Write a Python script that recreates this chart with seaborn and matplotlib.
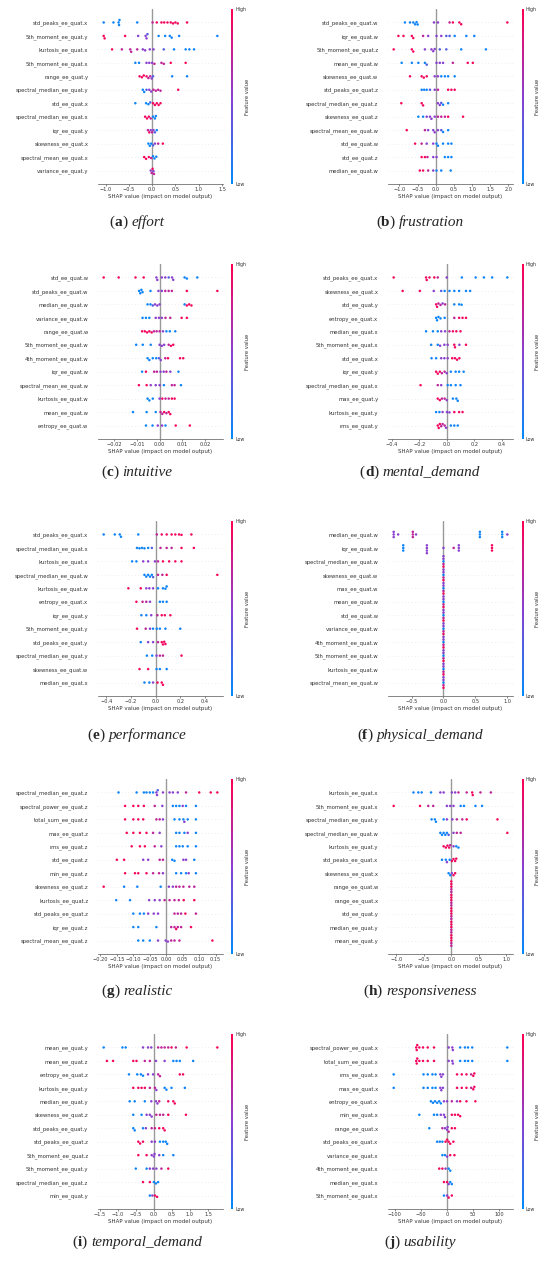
import warnings

import pandas as pd
import matplotlib
matplotlib.use("Agg")
import matplotlib.pyplot as plt
from matplotlib.colors import LinearSegmentedColormap, Normalize
from matplotlib.cm import ScalarMappable
from matplotlib.ticker import MultipleLocator
from matplotlib.offsetbox import TextArea, HPacker, AnnotationBbox
import seaborn as sns

warnings.filterwarnings("ignore")

# feature value levels (0 = low / blue, 1 = high / red)
B, L, P, K, R = 0.05, 0.3, 0.5, 0.72, 0.95

# ---------------- (a) effort ----------------
effort_features = ["std_peaks_ee_quat.x", "5th_moment_ee_quat.y", "kurtosis_ee_quat.x",
                   "5th_moment_ee_quat.x", "range_ee_quat.y", "spectral_median_ee_quat.y",
                   "std_ee_quat.x", "spectral_median_ee_quat.x", "iqr_ee_quat.y",
                   "skewness_ee_quat.x", "spectral_mean_ee_quat.x", "variance_ee_quat.y"]
effort_points = [
    [(-1.04, B), (-0.83, B), (-0.72, B), (-0.71, B), (-0.70, B), (-0.32, B), (0.01, K), (0.1, R),
     (0.2, R), (0.26, R), (0.33, R), (0.4, R), (0.45, R), (0.5, R), (0.55, R), (0.75, R)],
    [(-1.04, R), (-1.02, R), (-0.58, R), (-0.3, P), (-0.14, P), (-0.12, P), (-0.1, L), (0.14, B),
     (0.28, B), (0.38, B), (0.42, B), (0.58, B), (1.4, B)],
    [(-0.86, R), (-0.65, K), (-0.47, K), (-0.45, K), (-0.32, K), (-0.2, P), (-0.15, P), (-0.05, P),
     (0.03, P), (0.25, L), (0.47, B), (0.72, B), (0.8, B), (0.9, B)],
    [(-0.36, B), (-0.28, B), (-0.12, P), (-0.06, P), (0.0, P), (0.05, K), (0.2, K), (0.25, K),
     (0.4, R), (0.72, R)],
    [(-0.27, R), (-0.22, R), (-0.18, R), (-0.12, R), (-0.08, K), (-0.04, K), (-0.01, P), (0.02, L),
     (0.43, B), (0.75, B)],
    [(-0.2, B), (-0.17, B), (-0.12, L), (-0.06, P), (-0.02, P), (0.03, K), (0.08, K), (0.13, K),
     (0.18, K), (0.56, R)],
    [(-0.36, B), (-0.13, B), (-0.08, B), (-0.04, L), (0.02, R), (0.06, R), (0.1, R), (0.14, R), (0.18, R)],
    [(-0.15, R), (-0.11, R), (-0.07, R), (-0.03, K), (0.02, B), (0.06, B), (0.08, B)],
    [(-0.09, K), (-0.06, R), (-0.03, P), (0.0, K), (0.03, P), (0.06, L), (0.1, B)],
    [(-0.08, B), (-0.05, B), (-0.02, B), (0.02, L), (0.06, P), (0.13, K), (0.23, R)],
    [(-0.17, R), (-0.13, R), (-0.07, R), (-0.02, K), (0.02, B), (0.05, B), (0.09, B)],
    [(-0.03, P), (-0.01, K), (0.01, R), (0.03, P), (0.04, K)],
]

# ---------------- (b) frustration ----------------
frustration_features = ["std_peaks_ee_quat.w", "iqr_ee_quat.w", "5th_moment_ee_quat.z",
                        "mean_ee_quat.w", "skewness_ee_quat.w", "std_peaks_ee_quat.z",
                        "spectral_median_ee_quat.z", "skewness_ee_quat.z", "spectral_mean_ee_quat.w",
                        "std_ee_quat.w", "std_ee_quat.z", "median_ee_quat.w"]
frustration_points = [
    [(-0.85, B), (-0.71, B), (-0.62, B), (-0.57, B), (-0.53, B), (-0.5, B), (-0.05, P), (0.06, P),
     (0.38, K), (0.47, R), (0.65, R), (0.7, R), (1.97, R)],
    [(-1.03, R), (-0.89, R), (-0.66, R), (-0.62, R), (-0.35, K), (-0.21, P), (0.02, P), (0.15, P),
     (0.29, L), (0.38, L), (0.52, B), (0.84, B), (1.06, B)],
    [(-1.16, R), (-0.66, R), (-0.62, R), (-0.3, P), (-0.12, P), (-0.07, P), (-0.03, P), (0.11, L),
     (0.29, L), (0.7, B), (1.38, B)],
    [(-0.94, B), (-0.66, B), (-0.48, B), (-0.3, B), (-0.25, L), (0.02, P), (0.11, P), (0.2, P),
     (0.47, K), (0.88, R), (1.02, R)],
    [(-0.71, R), (-0.39, R), (-0.33, R), (-0.25, R), (-0.03, P), (0.06, P), (0.15, B), (0.25, B),
     (0.34, B), (0.52, B)],
    [(-0.39, B), (-0.32, B), (-0.25, B), (-0.16, L), (-0.03, P), (0.06, K), (0.34, R), (0.43, R), (0.52, R)],
    [(-0.95, R), (-0.39, R), (-0.35, R), (0.06, P), (0.11, P), (0.15, L), (0.2, B), (0.34, B)],
    [(-0.48, B), (-0.35, B), (-0.25, P), (-0.16, P), (-0.12, P), (-0.03, P), (0.06, K), (0.15, K),
     (0.25, K), (0.34, R), (0.75, R)],
    [(-0.8, R), (-0.3, K), (-0.21, P), (-0.07, P), (-0.03, P), (0.06, P), (0.15, L), (0.2, B), (0.34, B)],
    [(-0.57, R), (-0.39, K), (-0.25, P), (-0.07, P), (0.02, B), (0.06, B), (0.2, B), (0.34, B), (0.43, B)],
    [(-0.39, R), (-0.3, R), (-0.23, K), (-0.07, P), (0.02, P), (0.25, B), (0.34, B), (0.43, B)],
    [(-0.44, R), (-0.35, R), (-0.21, K), (-0.07, P), (0.02, B), (0.15, B), (0.41, B)],
]

# ---------------- (c) intuitive ----------------
intuitive_features = ["std_ee_quat.w", "std_peaks_ee_quat.w", "median_ee_quat.w", "variance_ee_quat.w",
                      "range_ee_quat.w", "5th_moment_ee_quat.w", "4th_moment_ee_quat.w", "iqr_ee_quat.w",
                      "spectral_mean_ee_quat.w", "kurtosis_ee_quat.w", "mean_ee_quat.w", "entropy_ee_quat.w"]
intuitive_points = [
    [(-0.0246, R), (-0.018, R), (-0.0106, R), (-0.007, R), (-0.0014, P), (-0.001, P), (0.001, P),
     (0.0025, P), (0.004, L), (0.0055, P), (0.006, P), (0.011, B), (0.012, B), (0.0166, B)],
    [(-0.009, B), (-0.0085, B), (-0.008, B), (-0.0075, B), (-0.004, B), (-0.0005, P), (0.001, P),
     (0.0025, K), (0.004, K), (0.0054, K), (0.012, R), (0.0254, R)],
    [(-0.0053, B), (-0.004, B), (-0.003, L), (-0.002, P), (-0.001, P), (0.0, P), (0.011, B),
     (0.012, R), (0.013, R), (0.014, R)],
    [(-0.0075, B), (-0.006, B), (-0.0045, B), (-0.0017, P), (-0.0003, P), (0.001, P), (0.0026, K),
     (0.0047, K), (0.0097, R), (0.012, R)],
    [(-0.0077, R), (-0.0065, R), (-0.0055, R), (-0.0045, R), (-0.0035, R), (-0.0025, K), (-0.0013, K),
     (0.0, K), (0.0015, P), (0.003, B), (0.0045, B), (0.0069, B)],
    [(-0.0103, B), (-0.0074, B), (-0.0039, B), (0.0, P), (0.001, P), (0.002, P), (0.004, K),
     (0.005, R), (0.006, R)],
    [(-0.0053, B), (-0.0045, B), (-0.003, B), (-0.0015, B), (-0.0003, L), (0.0005, P), (0.0025, K),
     (0.0037, R), (0.009, R), (0.0104, R)],
    [(-0.0077, B), (-0.006, R), (-0.0024, K), (-0.0012, K), (0.0004, P), (0.0018, P), (0.003, K),
     (0.0047, P), (0.0083, B)],
    [(-0.0091, R), (-0.0057, R), (-0.0039, P), (-0.0017, P), (0.0, P), (0.0019, B), (0.0054, K),
     (0.0066, K), (0.0094, B)],
    [(-0.0053, B), (-0.0045, B), (-0.003, B), (0.0, P), (0.0012, R), (0.0026, K), (0.004, K),
     (0.0054, R), (0.0066, R)],
    [(-0.0117, B), (-0.0057, B), (-0.0017, B), (0.0004, K), (0.0012, K), (0.002, R), (0.003, K),
     (0.004, R), (0.0047, R)],
    [(-0.006, B), (-0.0031, B), (-0.0008, P), (0.0011, P), (0.0026, B), (0.0071, R), (0.0133, R)],
]

# ---------------- (d) mental_demand ----------------
mental_features = ["std_peaks_ee_quat.x", "skewness_ee_quat.x", "std_ee_quat.y", "entropy_ee_quat.x",
                   "median_ee_quat.x", "5th_moment_ee_quat.x", "std_ee_quat.x", "iqr_ee_quat.y",
                   "spectral_median_ee_quat.x", "max_ee_quat.y", "kurtosis_ee_quat.y", "rms_ee_quat.y"]
mental_points = [
    [(-0.385, R), (-0.15, R), (-0.145, R), (-0.125, R), (-0.09, R), (-0.065, K), (0.0, P), (0.11, B),
     (0.21, B), (0.27, B), (0.33, B), (0.44, B)],
    [(-0.32, R), (-0.195, R), (-0.094, P), (-0.04, L), (-0.015, B), (0.02, B), (0.055, B), (0.09, B),
     (0.14, B), (0.17, B)],
    [(-0.077, R), (-0.07, R), (-0.06, K), (-0.045, K), (-0.03, P), (-0.012, K), (0.055, B), (0.09, B),
     (0.108, B)],
    [(-0.077, B), (-0.07, B), (-0.06, B), (-0.045, B), (-0.015, B), (0.055, K), (0.09, R), (0.115, R),
     (0.14, R)],
    [(-0.15, B), (-0.1, B), (-0.065, B), (-0.04, P), (-0.012, P), (0.02, K), (0.045, R), (0.07, R), (0.1, R)],
    [(-0.113, B), (-0.065, B), (-0.048, P), (-0.017, P), (0.007, P), (0.055, R), (0.06, R), (0.092, P),
     (0.14, R)],
    [(-0.11, B), (-0.077, B), (-0.04, P), (-0.017, P), (0.007, P), (0.04, R), (0.06, R), (0.075, R), (0.092, R)],
    [(-0.077, R), (-0.065, R), (-0.05, R), (-0.035, K), (-0.015, K), (0.0, P), (0.03, B), (0.065, B),
     (0.09, B), (0.123, B)],
    [(-0.19, R), (-0.065, K), (-0.04, P), (0.007, B), (0.03, B), (0.065, B), (0.1, B)],
    [(-0.065, R), (-0.05, R), (-0.035, K), (-0.015, K), (0.0, P), (0.045, B), (0.07, B), (0.08, B)],
    [(-0.077, B), (-0.053, B), (-0.03, P), (0.002, P), (0.02, P), (0.055, R), (0.09, R), (0.115, R)],
    [(-0.065, R), (-0.058, R), (-0.05, R), (-0.04, K), (-0.03, K), (-0.015, K), (-0.005, P), (0.03, B),
     (0.055, B), (0.08, B)],
]

# ---------------- (e) performance ----------------
performance_features = ["std_peaks_ee_quat.x", "spectral_median_ee_quat.x", "kurtosis_ee_quat.x",
                        "spectral_median_ee_quat.w", "kurtosis_ee_quat.w", "entropy_ee_quat.x",
                        "iqr_ee_quat.y", "5th_moment_ee_quat.y", "std_peaks_ee_quat.y",
                        "spectral_median_ee_quat.y", "skewness_ee_quat.w", "median_ee_quat.x"]
performance_points = [
    [(-0.42, B), (-0.33, B), (-0.29, B), (-0.28, B), (-0.14, B), (0.01, K), (0.05, R), (0.09, R),
     (0.13, R), (0.16, R), (0.19, R), (0.21, R), (0.29, R)],
    [(-0.15, B), (-0.13, B), (-0.11, B), (-0.09, B), (-0.06, B), (-0.03, L), (0.04, K), (0.09, K),
     (0.13, K), (0.21, R), (0.31, R)],
    [(-0.19, B), (-0.155, B), (-0.1, P), (-0.06, P), (-0.005, P), (0.02, K), (0.06, R), (0.11, R),
     (0.16, R), (0.21, R)],
    [(-0.09, B), (-0.075, B), (-0.06, B), (-0.045, B), (-0.03, B), (-0.02, L), (0.02, K), (0.055, K),
     (0.09, R), (0.5, R)],
    [(-0.22, R), (-0.12, R), (-0.075, P), (-0.05, P), (-0.02, P), (0.02, B), (0.06, B), (0.08, B), (0.09, B)],
    [(-0.155, R), (-0.105, K), (-0.075, K), (-0.045, P), (0.035, B), (0.06, B), (0.09, B)],
    [(-0.115, B), (-0.075, B), (-0.035, P), (0.015, K), (0.05, R), (0.075, R), (0.12, R)],
    [(-0.15, R), (-0.08, K), (-0.045, P), (-0.02, B), (0.01, B), (0.035, B), (0.08, B), (0.2, B)],
    [(-0.12, B), (-0.06, P), (-0.02, P), (0.02, K), (0.05, R), (0.06, R), (0.07, R), (0.08, R)],
    [(-0.07, B), (-0.027, B), (0.008, P), (0.035, K), (0.06, K), (0.21, R)],
    [(-0.13, R), (-0.06, R), (0.008, B), (0.035, B), (0.09, B)],
    [(-0.09, B), (-0.05, B), (-0.02, P), (0.016, R), (0.05, R), (0.06, R)],
]

# ---------------- (f) physical_demand ----------------
physical_features = ["median_ee_quat.w", "iqr_ee_quat.w", "spectral_median_ee_quat.w",
                     "skewness_ee_quat.w", "max_ee_quat.w", "mean_ee_quat.w", "std_ee_quat.w",
                     "variance_ee_quat.w", "4th_moment_ee_quat.w", "5th_moment_ee_quat.w",
                     "kurtosis_ee_quat.w", "spectral_mean_ee_quat.w"]
physical_zero_row = [(0.0, B), (0.0, K), (0.0, P), (0.0, R), (0.0, P)]
physical_points = [
    [(-0.78, P)] * 3 + [(-0.71, P)] + [(-0.48, K)] * 3 + [(-0.43, P)] + [(0.57, B)] * 3
    + [(0.92, B)] * 3 + [(1.0, P)],
    [(-0.63, B)] * 3 + [(-0.26, P)] * 4 + [(0.0, P), (0.16, K)] + [(0.24, P)] * 3 + [(0.76, R)] * 3,
] + [physical_zero_row] * 10

# ---------------- (g) realistic ----------------
realistic_features = ["spectral_median_ee_quat.z", "spectral_power_ee_quat.z", "total_sum_ee_quat.z",
                      "max_ee_quat.z", "rms_ee_quat.z", "std_ee_quat.z", "min_ee_quat.z",
                      "skewness_ee_quat.z", "kurtosis_ee_quat.z", "std_peaks_ee_quat.z",
                      "iqr_ee_quat.z", "spectral_mean_ee_quat.z"]
realistic_points = [
    [(-0.145, B), (-0.09, B), (-0.068, B), (-0.06, B), (-0.05, B), (-0.04, B), (-0.03, P), (-0.028, P),
     (-0.026, L), (-0.01, P), (0.01, P), (0.02, P), (0.035, P), (0.06, K), (0.1, R), (0.135, R), (0.155, R)],
    [(-0.125, R), (-0.1, R), (-0.085, R), (-0.068, R), (-0.035, K), (-0.012, P), (0.02, B), (0.03, B),
     (0.04, B), (0.05, P), (0.06, B), (0.09, B)],
    [(-0.125, R), (-0.1, R), (-0.085, R), (-0.07, R), (-0.03, K), (-0.02, K), (-0.01, P), (0.025, B),
     (0.04, B), (0.052, B), (0.055, P), (0.065, B), (0.09, B)],
    [(-0.12, R), (-0.1, R), (-0.08, R), (-0.06, R), (-0.04, K), (-0.02, P), (0.03, B), (0.04, B),
     (0.055, B), (0.065, P), (0.09, B)],
    [(-0.105, R), (-0.08, R), (-0.065, R), (-0.035, K), (-0.015, P), (0.03, B), (0.04, B), (0.05, B),
     (0.065, B), (0.09, B)],
    [(-0.15, R), (-0.128, R), (-0.07, P), (-0.055, P), (-0.02, K), (-0.01, K), (0.018, B), (0.025, B),
     (0.052, P), (0.06, P), (0.085, B)],
    [(-0.125, R), (-0.095, R), (-0.085, R), (-0.06, R), (-0.04, K), (-0.022, K), (-0.01, P), (0.03, B),
     (0.045, B), (0.06, B), (0.068, P), (0.09, B)],
    [(-0.19, R), (-0.128, B), (-0.088, B), (-0.017, B), (0.008, P), (0.02, P), (0.03, K), (0.04, K),
     (0.052, K), (0.07, K), (0.085, K)],
    [(-0.152, B), (-0.11, B), (-0.052, P), (-0.035, P), (-0.02, P), (-0.005, K), (0.01, K), (0.025, K),
     (0.038, K), (0.053, R), (0.085, R)],
    [(-0.1, B), (-0.08, B), (-0.068, B), (-0.055, P), (-0.038, P), (-0.025, P), (0.025, K), (0.035, K),
     (0.045, K), (0.058, R), (0.09, K)],
    [(-0.1, B), (-0.085, B), (-0.03, B), (0.015, K), (0.025, K), (0.03, R), (0.035, K), (0.045, K), (0.075, R)],
    [(-0.085, B), (-0.07, B), (-0.05, B), (-0.025, P), (-0.002, P), (0.005, P), (0.015, K), (0.025, K),
     (0.04, K), (0.14, R)],
]

# ---------------- (h) responsiveness ----------------
responsiveness_features = ["kurtosis_ee_quat.x", "5th_moment_ee_quat.x", "spectral_median_ee_quat.y",
                           "spectral_median_ee_quat.w", "kurtosis_ee_quat.y", "std_peaks_ee_quat.x",
                           "skewness_ee_quat.x", "range_ee_quat.w", "range_ee_quat.x", "std_ee_quat.y",
                           "median_ee_quat.y", "mean_ee_quat.y"]
responsiveness_zero_row = [(0.0, R), (0.0, K), (0.0, R), (0.0, K), (0.0, R)]
responsiveness_points = [
    [(-0.69, B), (-0.6, B), (-0.54, B), (-0.37, B), (-0.2, P), (-0.14, P), (0.01, P), (0.07, P),
     (0.13, K), (0.28, K), (0.38, R), (0.39, R), (0.53, K), (0.72, K)],
    [(-1.05, R), (-0.57, R), (-0.42, K), (-0.33, K), (-0.08, P), (-0.02, P), (0.04, P), (0.17, B),
     (0.23, B), (0.44, B), (0.56, B)],
    [(-0.36, B), (-0.3, B), (-0.28, B), (-0.14, B), (-0.08, P), (0.02, P), (0.1, K), (0.2, K),
     (0.28, R), (0.84, R)],
    [(-0.2, B), (-0.17, B), (-0.14, B), (-0.11, B), (-0.08, B), (-0.05, L), (0.04, P), (0.1, K),
     (0.17, K), (1.02, R)],
    [(-0.14, R), (-0.1, R), (-0.07, R), (-0.04, R), (-0.02, K), (0.04, P), (0.09, B), (0.13, B)],
    [(-0.17, B), (-0.1, B), (-0.08, P), (-0.03, B), (0.01, R), (0.04, R), (0.07, R), (0.09, R)],
    [(-0.05, B), (-0.02, B), (0.01, P), (0.04, R), (0.07, R)],
] + [responsiveness_zero_row] * 5

# ---------------- (i) temporal_demand ----------------
temporal_features = ["mean_ee_quat.y", "mean_ee_quat.z", "entropy_ee_quat.z", "kurtosis_ee_quat.y",
                     "median_ee_quat.y", "skewness_ee_quat.z", "std_peaks_ee_quat.y",
                     "std_peaks_ee_quat.z", "5th_moment_ee_quat.z", "5th_moment_ee_quat.y",
                     "spectral_median_ee_quat.z", "min_ee_quat.y"]
temporal_points = [
    [(-1.39, B), (-0.87, B), (-0.78, B), (-0.3, P), (-0.16, P), (-0.07, P), (0.12, K), (0.21, K),
     (0.3, K), (0.4, K), (0.49, R), (0.61, K), (0.91, R), (1.76, R)],
    [(-1.3, R), (-1.13, R), (-0.57, R), (-0.48, R), (-0.25, K), (-0.11, K), (0.06, P), (0.3, P),
     (0.54, B), (0.63, B), (0.72, B), (1.09, B)],
    [(-0.69, B), (-0.46, B), (-0.36, B), (-0.3, B), (-0.16, P), (-0.02, P), (0.12, K), (0.17, K),
     (0.72, R), (0.81, R)],
    [(-0.57, R), (-0.43, R), (-0.34, R), (-0.25, R), (-0.11, K), (0.03, K), (0.07, P), (0.3, B),
     (0.35, B), (0.49, B), (0.86, B)],
    [(-0.67, B), (-0.53, B), (-0.25, B), (-0.07, P), (0.06, P), (0.1, P), (0.15, K), (0.4, R),
     (0.54, R), (0.58, R)],
    [(-0.57, B), (-0.34, B), (-0.2, P), (-0.11, P), (-0.06, P), (0.07, K), (0.17, K), (0.26, K),
     (0.4, R), (0.89, R)],
    [(-0.57, B), (-0.53, B), (-0.3, B), (-0.22, P), (-0.06, K), (0.03, K), (0.15, R), (0.26, R), (0.3, R)],
    [(-0.43, R), (-0.38, R), (-0.3, R), (-0.06, P), (0.03, P), (0.17, B), (0.26, B), (0.33, B), (0.37, B)],
    [(-0.43, R), (-0.2, R), (-0.06, P), (0.0, P), (0.02, P), (0.15, P), (0.26, B), (0.54, B)],
    [(-0.5, B), (-0.2, B), (-0.11, P), (-0.02, P), (0.07, P), (0.21, K), (0.4, R)],
    [(-0.3, R), (-0.11, R), (0.0, B), (0.06, B), (0.12, B)],
    [(-0.11, B), (-0.04, P), (0.03, R), (0.09, R)],
]

# ---------------- (j) usability ----------------
usability_features = ["spectral_power_ee_quat.x", "total_sum_ee_quat.x", "rms_ee_quat.x",
                      "max_ee_quat.x", "entropy_ee_quat.x", "min_ee_quat.x", "range_ee_quat.x",
                      "std_peaks_ee_quat.x", "variance_ee_quat.x", "4th_moment_ee_quat.x",
                      "median_ee_quat.x", "5th_moment_ee_quat.x"]
usability_power_row = [(-59, R), (-58, R), (-57, R), (-53, R), (-46, R), (-37, R), (-25, R), (3, P),
                       (10, P), (11, P), (25, B), (34, B), (40, B), (48, B), (115, B)]
usability_rms_row = [(-102, B), (-45, B), (-37, B), (-28, B), (-22, B), (-13, P), (-11, P), (-8, P),
                     (19, R), (28, R), (37, R), (46, K), (50, R), (52, R)]
usability_points = [
    usability_power_row,
    usability_power_row,
    usability_rms_row,
    usability_rms_row,
    [(-31, B), (-27, B), (-23, B), (-19, B), (-15, B), (-12, B), (-6, P), (0, P), (9, K), (19, P),
     (25, R), (37, R), (54, R)],
    [(-53, B), (-25, B), (-19, B), (-12, P), (-6, P), (-4, P), (9, R), (15, R), (21, R), (25, R)],
    [(-34, B), (-9, K), (-4, P), (0, P), (1, P), (3, K), (9, R), (15, R)],
    [(-19, B), (-14, B), (-9, B), (-3, R), (0, R), (3, R), (6, R), (12, R)],
    [(-9, B), (-4, B), (0, P), (6, R), (14, R)],
    [(-15, R), (-9, R), (-3, P), (3, B), (6, B)],
    [(-6, R), (0, R), (3, P), (6, B), (9, B)],
    [(-6, B), (0, P), (3, R), (9, R)],
]

panels = [
    ("a", "effort", effort_features, effort_points, 0.5),
    ("b", "frustration", frustration_features, frustration_points, 0.5),
    ("c", "intuitive", intuitive_features, intuitive_points, 0.01),
    ("d", "mental_demand", mental_features, mental_points, 0.2),
    ("e", "performance", performance_features, performance_points, 0.2),
    ("f", "physical_demand", physical_features, physical_points, 0.5),
    ("g", "realistic", realistic_features, realistic_points, 0.05),
    ("h", "responsiveness", responsiveness_features, responsiveness_points, 0.5),
    ("i", "temporal_demand", temporal_features, temporal_points, 0.5),
    ("j", "usability", usability_features, usability_points, 50),
]

sns.set_style("ticks")
plt.rcParams["font.family"] = ["DejaVu Sans"]

shap_cmap = LinearSegmentedColormap.from_list("shap_red_blue", ["#008bfb", "#8a3fce", "#ff0052"])

W, H = 550, 1270
fig = plt.figure(figsize=(W / 100, H / 100), dpi=100)
fig.patch.set_facecolor("white")

ax_left = [98, 388]
ax_w = 125
ax_h = 175
ax_bottom = [184, 439, 696, 954, 1209]
cbar_left = [231, 521.5]
cap_x = [137, 420]
cap_y = [222, 472, 735, 991, 1242]


def px_axes(x0, top, w, h):
    return fig.add_axes([x0 / W, 1 - (top + h) / H, w / W, h / H])


def draw_panel(ax, cax, features, points, step):
    rows = []
    for feat, pts in zip(features, points):
        for shap_val, fval in pts:
            rows.append({"feature": feat, "shap": shap_val, "fval": fval})
    df = pd.DataFrame(rows)

    sns.swarmplot(data=df, x="shap", y="feature", hue="fval", order=features,
                  palette=shap_cmap, hue_norm=(0, 1), size=1.8, linewidth=0,
                  legend=False, ax=ax, zorder=3)
    ax.axvline(0, color="#999999", lw=1.0, zorder=1)
    for i in range(len(features)):
        ax.axhline(i, color="#cccccc", lw=0.4, dashes=(1, 5), zorder=0)
    ax.set_ylim(len(features), -1)

    ax.set_ylabel("")
    ax.set_xlabel("SHAP value (impact on model output)", fontsize=4, color="#333333", labelpad=1)
    ax.xaxis.set_major_locator(MultipleLocator(step))
    ax.tick_params(axis="x", labelsize=3.6, length=1.5, width=0.4, pad=1, colors="#333333")
    ax.tick_params(axis="y", labelsize=3.8, length=0, pad=7, colors="#333333")
    for side in ["left", "top", "right"]:
        ax.spines[side].set_visible(False)
    ax.spines["bottom"].set_linewidth(0.5)
    ax.spines["bottom"].set_color("#555555")

    sm = ScalarMappable(norm=Normalize(0, 1), cmap=shap_cmap)
    cb = fig.colorbar(sm, cax=cax, ticks=[0, 1])
    cb.set_ticklabels(["Low", "High"])
    cb.ax.tick_params(labelsize=3.4, length=0, pad=1.5, colors="#333333")
    cb.outline.set_visible(False)
    cb.set_label("Feature value", fontsize=3.8, color="#333333", labelpad=-1)


for idx, (letter, name, features, points, step) in enumerate(panels):
    col, row = idx % 2, idx // 2
    top = ax_bottom[row] - ax_h
    ax = px_axes(ax_left[col], top, ax_w, ax_h)
    cax = px_axes(cbar_left[col], top, 2, ax_h)
    draw_panel(ax, cax, features, points, step)

    serif = "Liberation Serif"
    parts = [
        TextArea("(", textprops=dict(family=serif, size=11)),
        TextArea(letter, textprops=dict(family=serif, size=11, weight="bold")),
        TextArea(")", textprops=dict(family=serif, size=11)),
        TextArea(name, textprops=dict(family=serif, size=11, style="italic")),
    ]
    box = HPacker(children=parts[:3], pad=0, sep=0)
    caption = HPacker(children=[box, parts[3]], pad=0, sep=3)
    ab = AnnotationBbox(caption, (cap_x[col] / W, 1 - cap_y[row] / H), xycoords="figure fraction",
                        frameon=False, box_alignment=(0.5, 0.5), pad=0)
    fig.add_artist(ab)

fig.savefig("out.png", dpi=100, facecolor="white")
